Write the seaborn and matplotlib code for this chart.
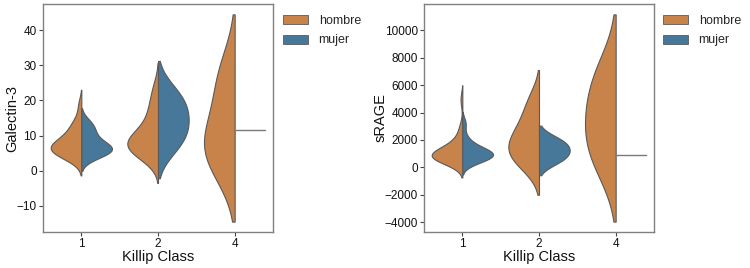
import numpy as np
import pandas as pd
import matplotlib
matplotlib.use("Agg")
import matplotlib.pyplot as plt
import seaborn as sns
from matplotlib.ticker import MultipleLocator
from matplotlib.patches import Patch

# ---- data -------------------------------------------------------------
classes = ["1", "2", "4"]
sexes = ["hombre", "mujer"]

# Galectin-3
gal_hombre_1 = [3.0, 3.8, 4.5, 5.0, 5.4, 5.8, 6.0, 6.3, 6.6, 7.0, 7.4, 7.9,
                8.4, 9.0, 9.8, 10.8, 12.0, 13.2, 14.6, 18.7]
gal_mujer_1 = [3.8, 4.8, 5.3, 5.8, 6.2, 6.6, 7.2, 8.0, 9.5, 11.0, 12.5, 13.9]
gal_hombre_2 = [2.9, 4.0, 5.0, 5.6, 6.2, 6.7, 7.1, 7.5, 8.0, 8.5, 9.0, 9.6,
                10.5, 11.5, 12.8, 14.5, 16.5, 18.5, 21.0, 24.3]
gal_mujer_2 = [7.3, 12.1, 16.9, 21.8]
gal_hombre_4 = [4.0, 9.0, 26.0]
gal_mujer_4 = [11.5]

# sRAGE
srage_hombre_1 = [310, 420, 500, 560, 620, 660, 700, 740, 780, 820, 860, 900,
                  950, 1000, 1060, 1130, 1200, 1300, 1420, 1560, 1750, 2000,
                  2400, 3000, 4940]
srage_mujer_1 = [330, 500, 620, 720, 800, 870, 940, 1010, 1090, 1180, 1300,
                 1450, 1700, 2200, 3200]
srage_hombre_2 = [300, 900, 1500, 2200, 3200, 4800]
srage_mujer_2 = [540, 1240, 1930]
srage_hombre_4 = [700, 3400, 6500]
srage_mujer_4 = [900]

colors = {"hombre": "#C8834A", "mujer": "#47789A"}
edge = "#595959"


def to_long(groups):
    rows = []
    for (k, s), vals in groups.items():
        for v in vals:
            rows.append((k, s, v))
    return pd.DataFrame(rows, columns=["Killip", "Sexo", "value"])


gal = to_long({
    ("1", "hombre"): gal_hombre_1, ("1", "mujer"): gal_mujer_1,
    ("2", "hombre"): gal_hombre_2, ("2", "mujer"): gal_mujer_2,
    ("4", "hombre"): gal_hombre_4, ("4", "mujer"): gal_mujer_4,
})
srage = to_long({
    ("1", "hombre"): srage_hombre_1, ("1", "mujer"): srage_mujer_1,
    ("2", "hombre"): srage_hombre_2, ("2", "mujer"): srage_mujer_2,
    ("4", "hombre"): srage_hombre_4, ("4", "mujer"): srage_mujer_4,
})

# ---- style ------------------------------------------------------------
sns.set_theme(style="ticks")
plt.rcParams["font.family"] = ["Liberation Sans", "DejaVu Sans"]

W, H = 750, 268
fig = plt.figure(figsize=(W / 100, H / 100), dpi=100)
ax1 = fig.add_axes([43 / W, 36 / H, 230 / W, 228 / H])
ax2 = fig.add_axes([424 / W, 36 / H, 230 / W, 228 / H])

# (axes, data, y label, tick step, legend x px, y-label centre x px)
panels = [(ax1, gal, "Galectin-3", 10, 283, 12),
          (ax2, srage, "sRAGE", 2000, 663, 381)]

for ax, df, ylabel, step, legx, labx in panels:
    sns.violinplot(data=df, x="Killip", y="value", hue="Sexo",
                   order=classes, hue_order=sexes, split=True, inner=None,
                   density_norm="width", cut=2, palette=colors,
                   saturation=1, linewidth=0.8, linecolor=edge, width=0.8,
                   ax=ax, legend=False)
    # single-observation groups are drawn as lines: lighter grey as in ref
    for ln in ax.lines:
        ln.set_color("#7a7a7a")
        ln.set_linewidth(1.0)
    ax.set_xlabel("Killip Class", fontsize=10.5, color="#111111", labelpad=0)
    ax.set_ylabel(ylabel, fontsize=10.5, color="#111111", va="center")
    x0 = ax.get_position().x0 * W
    ax.yaxis.set_label_coords((labx - x0) / 230, 0.5)
    ax.yaxis.set_major_locator(MultipleLocator(step))
    ax.tick_params(axis="both", labelsize=8.5, colors="#444444",
                   length=3, width=0.8, pad=1.5, labelcolor="#111111")
    for sp in ax.spines.values():
        sp.set_visible(True)
        sp.set_color("#808080")
        sp.set_linewidth(1.0)
    handles = [Patch(facecolor=colors[s], edgecolor=edge, linewidth=0.6,
                     label=s) for s in sexes]
    ax.legend(handles=handles, loc="upper left",
              bbox_to_anchor=(legx / W, 1 - 15 / H),
              bbox_transform=fig.transFigure, frameon=False,
              fontsize=9, handlelength=2.0, handleheight=0.75,
              handletextpad=0.85, labelspacing=0.6, borderpad=0,
              borderaxespad=0)

fig.savefig("out.png", dpi=100)
